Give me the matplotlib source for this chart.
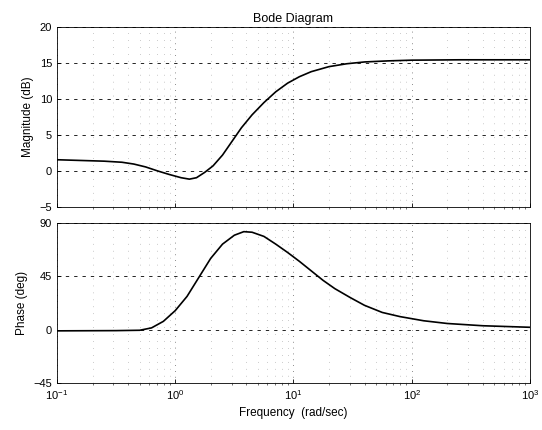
import matplotlib
matplotlib.use("Agg")
import matplotlib.pyplot as plt
from matplotlib.ticker import LogLocator, FixedLocator, NullFormatter

plt.rcParams['font.family'] = ['Liberation Sans', 'DejaVu Sans']

# log10 of frequency (rad/sec) and values
mag_logw = [-1.0, -0.8, -0.6, -0.45, -0.35, -0.25, -0.15, -0.05, 0.05, 0.12, 0.18,
            0.25, 0.32, 0.4, 0.48, 0.56, 0.65, 0.75, 0.85, 0.95, 1.05, 1.15, 1.3,
            1.45, 1.6, 1.8, 2.0, 2.4, 3.0]
mag_db = [1.55, 1.45, 1.35, 1.2, 0.95, 0.55, 0.0, -0.5, -0.95, -1.15, -0.95,
          -0.2, 0.7, 2.2, 4.1, 6.0, 7.8, 9.5, 11.0, 12.2, 13.1, 13.8, 14.5,
          14.9, 15.15, 15.3, 15.4, 15.45, 15.45]

ph_logw = [-1.0, -0.5, -0.3, -0.2, -0.1, 0.0, 0.1, 0.2, 0.3, 0.4, 0.5, 0.58, 0.65,
           0.75, 0.85, 0.95, 1.05, 1.15, 1.25, 1.35, 1.48, 1.6, 1.75, 1.9, 2.1,
           2.3, 2.6, 3.0]
ph_deg = [-1.0, -0.8, -0.5, 1.5, 7.0, 16.0, 28.0, 44.0, 60.0, 72.0, 79.5, 82.5, 82.0,
          78.5, 72.0, 65.0, 57.5, 49.5, 41.5, 34.5, 27.0, 20.5, 14.5, 11.0, 7.5,
          5.2, 3.3, 2.0]

mag_ticks = [-5, 0, 5, 10, 15, 20]
ph_ticks = [-45, 0, 45, 90]

mag_freq = [10 ** v for v in mag_logw]
ph_freq = [10 ** v for v in ph_logw]

fig = plt.figure(figsize=(5.42, 4.30), dpi=100)
ax1 = fig.add_axes([0.105, 0.519, 0.873, 0.418])
ax2 = fig.add_axes([0.105, 0.109, 0.873, 0.373])

def style(ax):
    ax.set_xscale('log')
    ax.set_xlim(0.1, 1000)
    ax.xaxis.set_major_locator(LogLocator(base=10, numticks=10))
    ax.xaxis.set_minor_locator(LogLocator(base=10, subs=range(2, 10), numticks=20))
    ax.xaxis.set_minor_formatter(NullFormatter())
    ax.grid(True, which='major', axis='y', color='black', linestyle=(0, (4, 6)), linewidth=0.6)
    ax.grid(True, which='major', axis='x', color='0.4', linestyle=(0, (1, 6)), linewidth=0.6)
    ax.grid(True, which='minor', axis='x', color='0.6', linestyle=(0, (1, 9)), linewidth=0.5)
    ax.tick_params(labelsize=8, length=3, width=0.6, direction='in')
    ax.tick_params(which='minor', length=1.5, width=0.4)
    for s in ax.spines.values():
        s.set_linewidth(0.6)

ax1.plot(mag_freq, mag_db, color='black', linewidth=1.2)
style(ax1)
ax1.set_ylim(-5, 20)
ax1.yaxis.set_major_locator(FixedLocator(mag_ticks))
ax1.xaxis.set_major_formatter(NullFormatter())
ax1.set_ylabel('Magnitude (dB)', fontsize=8.5)
ax1.set_title('Bode Diagram', fontsize=9, pad=4)

ax2.plot(ph_freq, ph_deg, color='black', linewidth=1.2)
style(ax2)
ax2.set_ylim(-45, 90)
ax2.yaxis.set_major_locator(FixedLocator(ph_ticks))
ax2.set_ylabel('Phase (deg)', fontsize=8.5)
ax2.set_xlabel('Frequency  (rad/sec)', fontsize=8.5)

fig.savefig('out.png', dpi=100)
